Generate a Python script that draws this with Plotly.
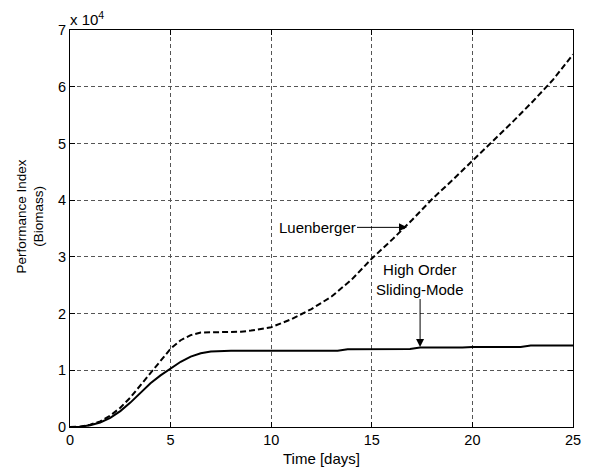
import plotly.graph_objects as go

# Time axis (days) and performance index values (in units of 1e4)
t_luen = [0, 0.5, 1, 1.5, 2, 2.5, 3, 3.5, 4, 4.5, 5, 5.5, 6, 6.5, 7, 7.5, 8, 8.5, 9, 9.5,
          10, 11, 12, 13, 14, 15, 16, 17, 18, 19, 20, 21, 22, 23, 24, 25]
luenberger = [0, 0.005, 0.04, 0.1, 0.2, 0.34, 0.52, 0.74, 0.96, 1.16, 1.38, 1.53, 1.62, 1.665,
              1.67, 1.67, 1.67, 1.68, 1.7, 1.73, 1.76, 1.9, 2.08, 2.3, 2.6, 2.97, 3.3, 3.65,
              4.02, 4.35, 4.69, 5.03, 5.38, 5.74, 6.12, 6.57]

t_homs = [0, 0.5, 1, 1.5, 2, 2.5, 3, 3.5, 4, 4.5, 5, 5.5, 6, 6.5, 7, 7.5, 8,
          13.3, 13.8, 16.9, 17.4, 19.5, 20, 22.4, 22.9, 25]
homs = [0, 0.005, 0.03, 0.08, 0.16, 0.28, 0.43, 0.6, 0.77, 0.91, 1.03, 1.15, 1.24, 1.3,
        1.33, 1.34, 1.345, 1.345, 1.37, 1.375, 1.4, 1.4, 1.41, 1.41, 1.435, 1.435]

x_ticks = [0, 5, 10, 15, 20, 25]
y_ticks = [0, 1, 2, 3, 4, 5, 6, 7]

FONT = "Liberation Sans, Arial, sans-serif"

fig = go.Figure()
fig.add_trace(go.Scatter(x=t_luen, y=luenberger, mode="lines",
                         line=dict(color="black", width=2, dash="6px,3px"),
                         showlegend=False))
fig.add_trace(go.Scatter(x=t_homs, y=homs, mode="lines",
                         line=dict(color="black", width=2),
                         showlegend=False))

axis_common = dict(
    showline=True, linecolor="black", linewidth=1, mirror="ticks",
    ticks="inside", ticklen=5, tickcolor="black", tickwidth=1,
    showgrid=True, gridcolor="#555555", gridwidth=1, griddash="4px,3px",
    zeroline=False, automargin=False,
    tickfont=dict(family=FONT, size=14.5, color="black"),
)

fig.update_xaxes(range=[0, 25], tickvals=x_ticks, ticktext=[str(v) for v in x_ticks],
                 **axis_common)
fig.update_yaxes(range=[0, 7], tickvals=y_ticks, ticktext=[str(v) for v in y_ticks],
                 **axis_common)

fig.add_annotation(xref="paper", yref="paper", x=0.5, y=0, yshift=-31,
                   text="Time [days]", showarrow=False,
                   font=dict(family=FONT, size=15, color="black"),
                   xanchor="center", yanchor="middle")

fig.add_annotation(xref="paper", yref="paper", x=0, y=0.5, xshift=-40, yshift=12,
                   text="Performance Index<br>(Biomass)", textangle=-90, showarrow=False,
                   font=dict(family=FONT, size=13.5, color="black"),
                   xanchor="center", yanchor="middle")

fig.add_annotation(xref="paper", yref="paper", x=0, y=1, xanchor="left", yanchor="bottom",
                   xshift=-2, yshift=0, showarrow=False,
                   text="x 10<sup>4</sup>", font=dict(family=FONT, size=15, color="black"))

fig.add_annotation(x=16.75, y=3.52, ax=-90, ay=0, text="Luenberger", showarrow=True,
                   arrowhead=2, arrowsize=1.6, arrowwidth=1, arrowcolor="black",
                   font=dict(family=FONT, size=15, color="black"))

fig.add_annotation(x=17.4, y=1.41, ax=0, ay=-68, text="High Order<br>Sliding-Mode",
                   showarrow=True, arrowhead=2, arrowsize=1.6, arrowwidth=1,
                   arrowcolor="black", font=dict(family=FONT, size=15, color="black"))

fig.update_layout(
    width=589, height=468,
    margin=dict(l=70, r=16, t=30, b=41, autoexpand=False),
    plot_bgcolor="white", paper_bgcolor="white",
    font=dict(family=FONT, color="black"),
)

fig.write_html("out.html")
